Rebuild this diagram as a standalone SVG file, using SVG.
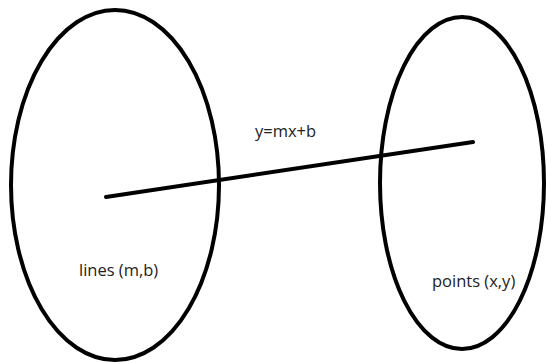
<svg xmlns="http://www.w3.org/2000/svg" width="547" height="362" viewBox="0 0 547 362">
<style>
.set{fill:none;stroke:#000;stroke-width:4}
.conn{stroke:#000;stroke-width:4;stroke-linecap:round}
text{font-family:"Open Sans","Liberation Sans",sans-serif;font-size:16.5px;fill:#222}
</style>
<rect width="547" height="362" fill="#fff"/>
<g id="lines-set">
<ellipse class="set" cx="115" cy="185" rx="104" ry="175"/>
<text x="79" y="276">lines (m,b)</text>
</g>
<g id="points-set">
<ellipse class="set" cx="462" cy="183" rx="82" ry="166"/>
<text x="432" y="287">points (x,y)</text>
</g>
<g id="connectors">
<line class="conn" x1="106" y1="197" x2="473" y2="142"/>
<text x="255" y="137">y=mx+b</text>
</g>
</svg>
